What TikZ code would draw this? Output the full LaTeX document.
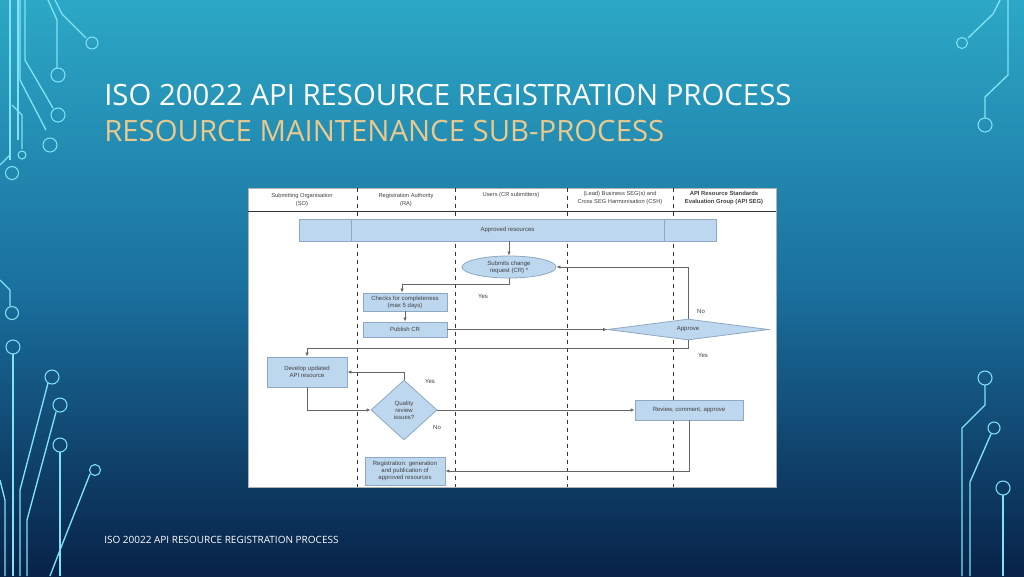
\documentclass[tikz,border=0pt]{standalone}
\usepackage{fontspec}
\setmainfont{Liberation Sans}
\newfontfamily\titlefont{Open Sans}
\usetikzlibrary{shapes.geometric,arrows.meta}
\definecolor{boxfill}{HTML}{BDD7EE}
\definecolor{boxline}{HTML}{8EA9C1}
\definecolor{tan}{HTML}{E9C98E}
\definecolor{circ}{HTML}{7FE3F5}
\begin{document}
\begin{tikzpicture}[x=0.75pt,y=-0.75pt,
  pbox/.style={draw=boxline,fill=boxfill,line width=0.6pt,inner sep=0pt,font=\fontsize{4.5}{5.2}\selectfont,align=center,text=black!75},
  conn/.style={draw=black!60,line width=0.5pt,-{Latex[length=3pt,width=2.5pt]}},
  lbl/.style={font=\fontsize{4.5}{5}\selectfont,text=black!75},
  hdr/.style={font=\fontsize{4.3}{6.5}\selectfont,align=center,text=black!75},
  lane/.style={draw=black!80,dashed,line width=0.5pt},
  circuit/.style={draw=circ,line width=1pt},
  dot/.style={draw=circ,line width=0.8pt}]
\useasboundingbox (0,0) rectangle (1024,576);
\shade[top color={rgb,255:red,44;green,168;blue,198}, bottom color={rgb,255:red,8;green,34;blue,72}, middle color={rgb,255:red,26;green,112;blue,158}] (0,0) rectangle (1024,576);
% left circuits
\draw[circuit] (10,0) -- (10,160);
\draw[dot] (12,173) circle (6.5);
\draw[circuit] (18,0) -- (18,140) ;
\draw[circuit] (20,0) -- (20,80) -- (46,130) ;
\draw[dot] (50,145) circle (7);
\draw[circuit] (25,0) -- (25,60) -- (53,108);
\draw[dot] (58,115) circle (7);
\draw[circuit] (48,0) -- (57,20) -- (57,68);
\draw[dot] (58,75) circle (7);
\draw[circuit] (55,0) -- (62,14) -- (86,38);
\draw[dot] (92,43) circle (6);
\draw[circuit] (12,105) -- (22,115) -- (22,149);
\draw[dot] (22,155) circle (4);
\draw[circuit] (0,165) -- (10,155);
\draw[circuit] (0,280) -- (10,290) -- (10,306);
\draw[dot] (12,313) circle (6.5);
\draw[dot] (13,347) circle (7);
\draw[circuit] (13,354) -- (13,576);
\draw[circuit] (0,480) -- (5,500) -- (5,576);
\draw[circuit] (20,576) -- (20,490) -- (48,383);
\draw[dot] (52,377) circle (7);
\draw[circuit] (27,576) -- (27,520) -- (56,412);
\draw[dot] (60,405) circle (7);
\draw[circuit] (60,452) -- (60,576);
\draw[dot] (60,445) circle (7);
\draw[circuit] (50,576) -- (60,550) -- (90,474);
\draw[dot] (95,470) circle (5.5);
% right circuits
\draw[circuit] (1000,0) -- (993,14) -- (968,38);
\draw[dot] (962,43) circle (5.5);
\draw[circuit] (1008,0) -- (1008,75) -- (985,97) -- (985,118);
\draw[dot] (985,125) circle (7);
\draw[dot] (985,378) circle (7);
\draw[circuit] (985,385) -- (985,405) -- (962,428) -- (962,576);
\draw[dot] (994,428) circle (6);
\draw[circuit] (991,434) -- (970,482) -- (970,576);
\draw[dot] (1003,488) circle (7);
\draw[circuit,line width=2pt] (1003,495) -- (1003,576);
% titles
\node[anchor=west,text=white,font=\titlefont\fontsize{22}{24}\selectfont,inner sep=0pt] (t1) at (104,95) {ISO 20022 API RESOURCE REGISTRATION PROCESS};
\node[anchor=west,text=tan,font=\titlefont\fontsize{22}{24}\selectfont,inner sep=0pt] (t2) at (104,131) {RESOURCE MAINTENANCE SUB-PROCESS};
\node[anchor=west,text=white,font=\titlefont\fontsize{7.5}{8}\selectfont,inner sep=0pt] (ft) at (104,540) {ISO 20022 API RESOURCE REGISTRATION PROCESS};
% diagram panel
\draw[fill=white,draw=black!30] (248,188) rectangle (776,487);
\draw[black!80,line width=0.6pt] (248,211) -- (776,211);
\foreach \x/\n in {357/l1,455/l2,567/l3,673/l4} \draw[lane] (\x,188) -- (\x,487);
\node[hdr] (h1) at (302,200) {Submitting Organisation\\(SO)};
\node[hdr] (h2) at (406,200) {Registration Authority\\(RA)};
\node[hdr] (h3) at (511,195) {Users (CR submitters)};
\node[hdr,font=\fontsize{4.3}{5.5}\selectfont] (h4) at (620,198) {(Lead) Business SEG(s) and\\Cross SEG Harmonisation (CSH)};
\node[hdr,font=\bfseries\fontsize{4.4}{5.5}\selectfont] (h5) at (724,198) {API Resource Standards\\Evaluation Group (API SEG)};
% nodes
\node[pbox,minimum width=417*0.75pt,minimum height=22*0.75pt] (bar) at (507.5,230) {Approved resources};
\draw[boxline,line width=0.6pt] (351,219) -- (351,241) (664,219) -- (664,241);
\node[pbox,ellipse,minimum width=94*0.75pt,minimum height=22*0.75pt] (cr) at (509,267) {Submits change\\request (CR) *};
\node[pbox,minimum width=84*0.75pt,minimum height=18*0.75pt] (chk) at (405,302) {Checks for completeness\\(max 5 days)};
\node[pbox,minimum width=84*0.75pt,minimum height=15*0.75pt] (pub) at (405,329.5) {Publish CR};
\node[pbox,diamond,aspect=7.5,minimum width=161*0.75pt,minimum height=21*0.75pt,inner sep=0pt] (apr) at (688,329.5) {Approve};
\node[pbox,minimum width=80*0.75pt,minimum height=30*0.75pt] (dev) at (307,372) {Develop updated\\API resource};
\node[pbox,diamond,minimum width=66*0.75pt,minimum height=60*0.75pt] (qr) at (404,410) {Quality\\review\\issues?};
\node[pbox,minimum width=108*0.75pt,minimum height=20*0.75pt] (rev) at (689,410) {Review, comment, approve};
\node[pbox,minimum width=80*0.75pt,minimum height=28*0.75pt] (reg) at (405,471) {Registration: generation\\and publication of\\approved resources};
% connectors
\draw[conn] (bar.south -| cr.north) -- (cr.north);
\draw[conn] (cr.south) |- (402,284) -- (chk.north -| 402,0);
\draw[conn] (chk) -- (pub);
\draw[conn] (pub.east) -- (apr.west);
\draw[conn] (apr.north) |- (cr.east);
\draw[conn] (apr.south) -- (688,348) -| (dev.north);
\draw[conn] (qr.north) |- (dev.east |- 0,372);
\draw[conn] (dev.south) |- (qr.west);
\draw[conn] (qr.east) -- (rev.west);
\draw[conn] (rev.south) |- (reg.east);
% labels
\node[lbl] (y1) at (483,296) {Yes};
\node[lbl] (n1) at (701,311) {No};
\node[lbl] (y2) at (703,355) {Yes};
\node[lbl] (y3) at (430,381) {Yes};
\node[lbl] (n2) at (437,427) {No};
\end{tikzpicture}
\end{document}
